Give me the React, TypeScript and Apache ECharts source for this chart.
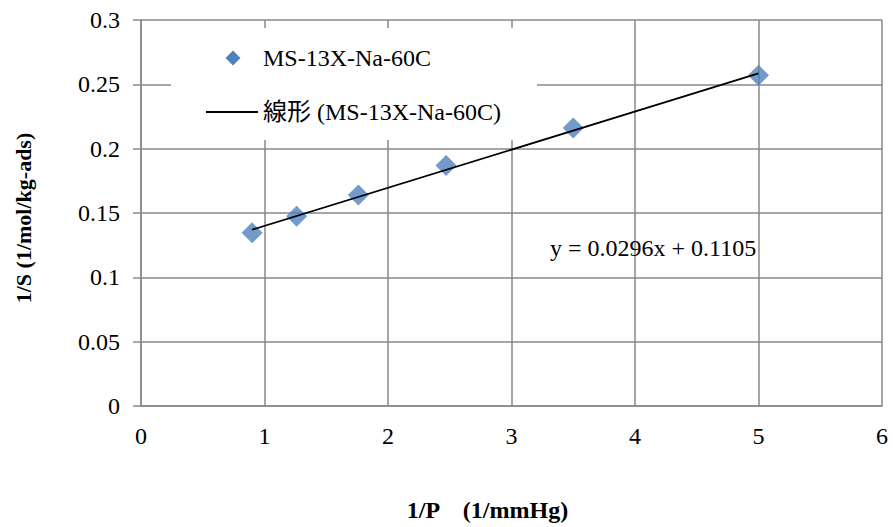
import React, { useEffect, useRef } from "react";
import * as echarts from "echarts";

const seriesName = "MS-13X-Na-60C";
const trendName = "線形 (MS-13X-Na-60C)";
const xValues = [0.9, 1.26, 1.76, 2.47, 3.5, 5.0];
const yValues = [0.1346, 0.1475, 0.164, 0.187, 0.216, 0.257];
const trendX = [0.9, 5.0];
const trendY = [0.137, 0.2585];
const equationText = "y = 0.0296x + 0.1105";
const xTitle = "1/P\u3000(1/mmHg)";
const yTitle = "1/S (1/mol/kg-ads)";

const FONT = "Liberation Serif, Noto Sans CJK JP, serif";
const GRID_COLOR = "#888888";
const BLUE = "#4F81BD";

export default function App() {
  const ref = useRef<HTMLDivElement>(null);
  useEffect(() => {
    document.body.style.margin = "0";
    if (!ref.current) return;
    const chart = echarts.init(ref.current, null, { renderer: "svg" });
    const points = xValues.map((x, i) => [x, yValues[i]]);
    const trend = trendX.map((x, i) => [x, trendY[i]]);
    chart.setOption({
      animation: false,
      backgroundColor: "#ffffff",
      textStyle: { fontFamily: FONT },
      grid: { left: 141, top: 20, right: 11, bottom: 117 },
      xAxis: {
        type: "value",
        min: 0,
        max: 6,
        interval: 1,
        name: xTitle,
        nameLocation: "middle",
        nameGap: 92,
        nameTextStyle: {
          fontFamily: FONT,
          fontSize: 24,
          fontWeight: "bold",
          color: "#000",
          padding: [0, 48, 0, 0],
        },
        axisLine: { show: true, lineStyle: { color: GRID_COLOR, width: 1.5 } },
        axisTick: { show: false },
        axisLabel: { fontFamily: FONT, fontSize: 24, color: "#000", margin: 18 },
        splitLine: { show: true, lineStyle: { color: GRID_COLOR, width: 1.5 } },
      },
      yAxis: {
        type: "value",
        min: 0,
        max: 0.3,
        interval: 0.05,
        name: yTitle,
        nameLocation: "middle",
        nameGap: 107,
        nameTextStyle: {
          fontFamily: FONT,
          fontSize: 22,
          fontWeight: "bold",
          color: "#000",
          padding: [0, 10, 0, 0],
        },
        axisLine: { show: true, lineStyle: { color: GRID_COLOR, width: 1.5 } },
        axisTick: { show: true, inside: false, length: 8, lineStyle: { color: GRID_COLOR, width: 1.5 } },
        axisLabel: { fontFamily: FONT, fontSize: 24, color: "#000", margin: 21 },
        splitLine: { show: true, lineStyle: { color: GRID_COLOR, width: 1.5 } },
      },
      series: [
        {
          name: seriesName,
          type: "scatter",
          data: points,
          symbol: "diamond",
          symbolSize: 21,
          itemStyle: { color: BLUE },
          z: 3,
        },
        {
          name: trendName,
          type: "line",
          data: trend,
          showSymbol: false,
          symbol: "none",
          lineStyle: { color: "#000", width: 1.8 },
          z: 4,
        },
      ],
      graphic: [
        {
          type: "rect",
          z: 1,
          shape: { x: 171, y: 28, width: 366, height: 112 },
          style: { fill: "#ffffff" },
        },
        {
          type: "polygon",
          z: 2,
          shape: { points: [[233, 50.5], [240.5, 58], [233, 65.5], [225.5, 58]] },
          style: { fill: BLUE },
        },
        {
          type: "text",
          z: 2,
          x: 263,
          y: 58,
          style: { text: seriesName, fontFamily: FONT, fontSize: 24, fill: "#000", verticalAlign: "middle" },
        },
        {
          type: "line",
          z: 2,
          shape: { x1: 206, y1: 112, x2: 258, y2: 112 },
          style: { stroke: "#000", lineWidth: 1.8 },
        },
        {
          type: "text",
          z: 2,
          x: 263,
          y: 112,
          style: { text: trendName, fontFamily: FONT, fontSize: 24, fill: "#000", verticalAlign: "middle" },
        },
        {
          type: "text",
          z: 5,
          x: 550,
          y: 248,
          style: { text: equationText, fontFamily: FONT, fontSize: 24, fill: "#000", verticalAlign: "middle" },
        },
      ],
    });
    return () => chart.dispose();
  }, []);
  return <div ref={ref} style={{ width: 893, height: 527 }} />;
}
